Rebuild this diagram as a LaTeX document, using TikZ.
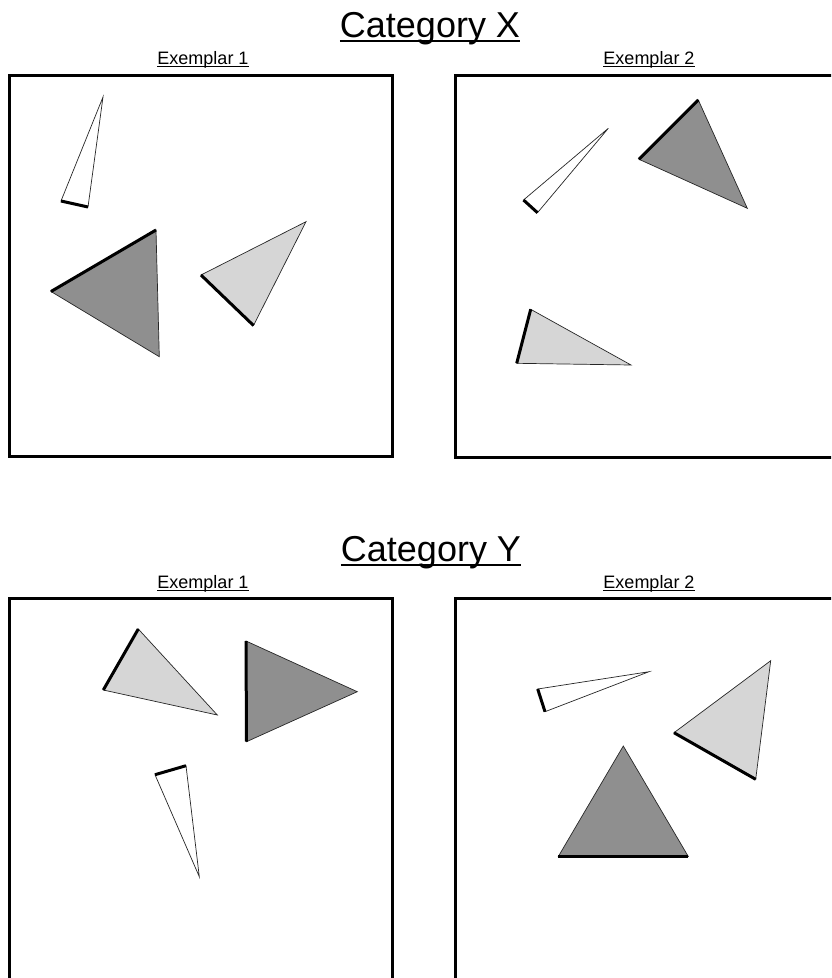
\documentclass[tikz,border=0pt]{standalone}
\usepackage{fontspec}
\setmainfont{Liberation Sans}
\definecolor{darkfill}{HTML}{8F8F8F}
\definecolor{lightfill}{HTML}{D6D6D6}
\newcommand\shapetri[4]{%
  \filldraw[thinedge,fill=#1] #2 -- #3 -- #4 -- cycle;
  \draw[thickedge] #2 -- #3;}
\begin{document}
\begin{tikzpicture}[x=1pt,y=-1pt,
  frame/.style={line width=3pt,line join=miter},
  thinedge/.style={line width=0.7pt,draw=black!85,line join=miter},
  thickedge/.style={line width=3pt,line cap=butt},
  cattitle/.style={inner sep=0pt,anchor=base,font=\fontsize{36}{40}\selectfont},
  extitle/.style={inner sep=0pt,anchor=base,font=\fontsize{18}{20}\selectfont},
  bigul/.style={line width=2pt},
  smallul/.style={line width=1pt}]
\useasboundingbox (0,0) rectangle (831,978);
\clip (0,0) rectangle (831,978);

% titles
\node[cattitle] (catX) at (430,37) {Category X};
\draw[bigul] ([yshift=-3.5pt]catX.base west) -- ([yshift=-3.5pt]catX.base east);
\node[cattitle] (catY) at (431,561) {Category Y};
\draw[bigul] ([yshift=-3.5pt]catY.base west) -- ([yshift=-3.5pt]catY.base east);

\node[extitle] (x1) at (203,64.5) {Exemplar 1};
\draw[smallul] ([yshift=-2pt]x1.base west) -- ([yshift=-2pt]x1.base east);
\node[extitle] (x2) at (649,64.5) {Exemplar 2};
\draw[smallul] ([yshift=-2pt]x2.base west) -- ([yshift=-2pt]x2.base east);
\node[extitle] (y1) at (203,588) {Exemplar 1};
\draw[smallul] ([yshift=-2pt]y1.base west) -- ([yshift=-2pt]y1.base east);
\node[extitle] (y2) at (649,588) {Exemplar 2};
\draw[smallul] ([yshift=-2pt]y2.base west) -- ([yshift=-2pt]y2.base east);

% frames
\draw[frame] (9,75.5) rectangle (392,456);
\draw[frame] (455,75.5) rectangle (843,457);
\draw[frame] (9,598) rectangle (392,1000);
\draw[frame] (455,598) rectangle (843,1000);

% Category X, exemplar 1
\shapetri{white}{(61,201)}{(88,207)}{(103,97)}
\shapetri{darkfill}{(51,291.5)}{(156,230)}{(159.3,356.7)}
\shapetri{lightfill}{(201,275)}{(253.5,325.5)}{(306,221.7)}

% Category X, exemplar 2
\shapetri{white}{(523.5,200)}{(537.5,212.7)}{(608.3,128.3)}
\shapetri{darkfill}{(639,159.3)}{(698.3,100)}{(747.3,208.3)}
\shapetri{lightfill}{(530.7,309.3)}{(516.7,363.3)}{(631,365)}

% Category Y, exemplar 1
\shapetri{lightfill}{(138.3,629)}{(103.3,690)}{(217.3,715)}
\shapetri{darkfill}{(246,641)}{(246.5,741.7)}{(357.3,691.7)}
\shapetri{white}{(155,774.7)}{(186,765.7)}{(199.3,876.7)}

% Category Y, exemplar 2
\shapetri{white}{(537.7,689)}{(545,711.7)}{(649,671.7)}
\shapetri{lightfill}{(674,732.7)}{(755.7,779.3)}{(770.7,660.7)}
\shapetri{darkfill}{(558.3,856.5)}{(688.3,856.5)}{(623.3,746)}
\end{tikzpicture}
\end{document}
